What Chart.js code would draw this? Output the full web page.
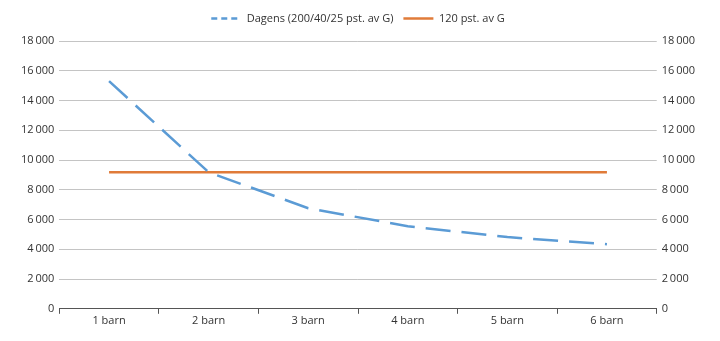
<!DOCTYPE html>
<html>
<head>
<meta charset="utf-8">
<script src="https://cdn.jsdelivr.net/npm/chart.js@4/dist/chart.umd.min.js"></script>
<style>
  body { margin: 0; background: #fff; }
  #wrap { width: 720px; height: 341px; }
</style>
</head>
<body>
<div id="wrap"><canvas id="graphic"></canvas></div>
<script>
const categories = ['1 barn', '2 barn', '3 barn', '4 barn', '5 barn', '6 barn'];
const dagens = [15300, 9180, 6760, 5550, 4820, 4340];
const pst120 = [9180, 9180, 9180, 9180, 9180, 9180];
const yTicks = [0, 2000, 4000, 6000, 8000, 10000, 12000, 14000, 16000, 18000];

const fmt = v => String(v).replace(/\B(?=(\d{3})+(?!\d))/g, '\u2009');
const font = { family: 'Open Sans', size: 11 };
const textColor = '#333';

const yAxis = (position, showGrid) => ({
  position: position,
  min: 0,
  max: 18000,
  afterBuildTicks: axis => { axis.ticks = yTicks.map(v => ({ value: v })); },
  border: { display: false },
  grid: { display: showGrid, color: '#c4c4c4', lineWidth: 1, drawTicks: false },
  ticks: { font: font, color: textColor, padding: 5, callback: v => fmt(v) }
});

// extra space under the legend
const legendMargin = {
  id: 'legendMargin',
  beforeInit(chart) {
    const fit = chart.legend.fit;
    chart.legend.fit = function () {
      fit.bind(chart.legend)();
      this.height += 7;
    };
  }
};

new Chart(document.getElementById('graphic').getContext('2d'), {
  type: 'line',
  data: {
    labels: categories,
    datasets: [
      {
        label: 'Dagens (200/40/25 pst. av G)',
        data: dagens,
        borderColor: '#5B9BD5',
        backgroundColor: '#5B9BD5',
        borderWidth: 2.5,
        borderDash: [25, 11],
        pointRadius: 0,
        tension: 0,
        yAxisID: 'y'
      },
      {
        label: '120 pst. av G',
        data: pst120,
        borderColor: '#E07B39',
        backgroundColor: '#E07B39',
        borderWidth: 2.5,
        pointRadius: 0,
        tension: 0,
        yAxisID: 'y'
      }
    ]
  },
  options: {
    responsive: true,
    maintainAspectRatio: false,
    animation: false,
    layout: { padding: { top: 3, left: 16, right: 20, bottom: 14 } },
    plugins: {
      tooltip: { enabled: false },
      legend: {
        position: 'top',
        labels: {
          font: font,
          color: textColor,
          usePointStyle: true,
          pointStyle: 'line',
          pointStyleWidth: 30,
          padding: 10,
          generateLabels: chart => chart.data.datasets.map((ds, i) => ({
            text: ds.label,
            strokeStyle: ds.borderColor,
            fillStyle: ds.borderColor,
            lineWidth: 2.5,
            lineDash: ds.borderDash ? [6, 4] : [],
            pointStyle: 'line',
            datasetIndex: i,
            fontColor: textColor
          }))
        }
      }
    },
    scales: {
      x: {
        offset: true,
        border: { display: true, color: '#555', width: 1 },
        grid: { offset: true, drawOnChartArea: false, drawTicks: true, tickLength: 5, color: '#555' },
        ticks: { font: font, color: textColor, padding: 0 }
      },
      y: yAxis('left', true),
      y2: yAxis('right', false)
    }
  },
  plugins: [legendMargin]
});
</script>
</body>
</html>
